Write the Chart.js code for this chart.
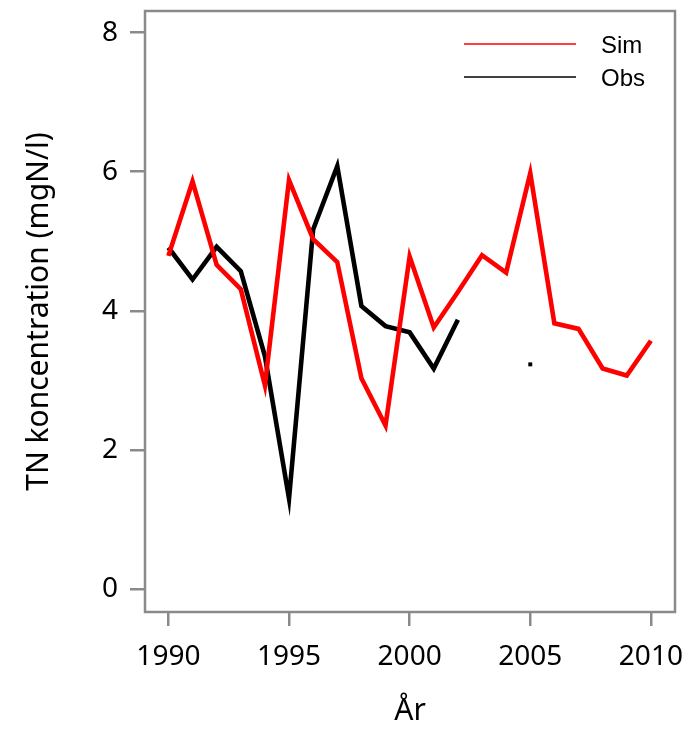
<!DOCTYPE html>
<html lang="sv">
<head>
<meta charset="utf-8">
<title>TN koncentration</title>
<script src="https://cdn.jsdelivr.net/npm/chart.js@4.4.1/dist/chart.umd.min.js"></script>
<style>
  html, body { margin: 0; padding: 0; background: #ffffff; }
  #contenedor { width: 684px; height: 729px; }
</style>
</head>
<body>
<div id="contenedor"><canvas id="grafico-tn" width="684" height="729"></canvas></div>
<script>
/**
 * Datos del gráfico
 */
const anios = [1990, 1991, 1992, 1993, 1994, 1995, 1996, 1997, 1998, 1999, 2000,
               2001, 2002, 2003, 2004, 2005, 2006, 2007, 2008, 2009, 2010];
const valoresSim = [4.79, 5.86, 4.66, 4.31, 2.93, 5.88, 5.03, 4.70, 3.03, 2.35, 4.78,
                    3.76, 4.27, 4.80, 4.55, 5.98, 3.82, 3.74, 3.17, 3.07, 3.57];
const valoresObs = [4.91, 4.45, 4.92, 4.57, 3.35, 1.30, 5.17, 6.08, 4.07, 3.78, 3.69,
                    3.17, 3.87, null, null, 3.23, null, null, null, null, null];
const ticksAnios = [1990, 1995, 2000, 2005, 2010];
const ticksConcentracion = [0, 2, 4, 6, 8];
const etiquetasSeries = ['Sim', 'Obs'];
const coloresSeries = ['#ff0000', '#000000'];

// Estilos comunes
const colorEjes = '#8a8a8a';
const fuenteEjes = 'Noto Sans';

/**
 * Convierte una serie en puntos {x, y}
 */
function armarPuntos(valores) {
  return anios.map((anio, i) => ({ x: anio, y: valores[i] }));
}

/**
 * Radio de punto: solo se dibujan los valores aislados (sin vecinos)
 */
function radioAislado(ctx) {
  const datos = ctx.dataset.data;
  const i = ctx.dataIndex;
  const prev = i > 0 ? datos[i - 1].y : null;
  const sig = i < datos.length - 1 ? datos[i + 1].y : null;
  return (datos[i].y !== null && prev === null && sig === null) ? 2.8 : 0;
}

/**
 * Quita el relleno automático que Chart.js reserva para las etiquetas
 */
function sinRelleno(escala) {
  escala.paddingTop = 0;
  escala.paddingBottom = 0;
  escala.paddingLeft = 0;
  escala.paddingRight = 0;
}

// Marco gris alrededor del área del gráfico
const pluginMarco = {
  id: 'marco',
  afterDraw(chart) {
    const { ctx, chartArea } = chart;
    ctx.save();
    ctx.strokeStyle = colorEjes;
    ctx.lineWidth = 2.5;
    ctx.strokeRect(chartArea.left, chartArea.top,
                   chartArea.right - chartArea.left, chartArea.bottom - chartArea.top);
    ctx.restore();
  }
};

// Leyenda con líneas finas arriba a la derecha
const pluginLeyenda = {
  id: 'leyendaLineas',
  afterDraw(chart) {
    const { ctx } = chart;
    const filas = [44, 77];
    ctx.save();
    ctx.font = '24px "Liberation Sans", Arial, sans-serif';
    ctx.textBaseline = 'middle';
    ctx.textAlign = 'left';
    chart.data.datasets.forEach((ds, i) => {
      ctx.strokeStyle = ds.borderColor;
      ctx.lineWidth = 1.3;
      ctx.beginPath();
      ctx.moveTo(464, filas[i]);
      ctx.lineTo(576, filas[i]);
      ctx.stroke();
      ctx.fillStyle = '#000000';
      ctx.fillText(ds.label, 601, filas[i] + 2);
    });
    ctx.restore();
  }
};

const ctxGrafico = document.getElementById('grafico-tn');

new Chart(ctxGrafico, {
  type: 'line',
  data: {
    datasets: [valoresSim, valoresObs].map((valores, i) => ({
      label: etiquetasSeries[i],
      data: armarPuntos(valores),
      borderColor: coloresSeries[i],
      backgroundColor: coloresSeries[i],
      borderWidth: 4.6,
      borderJoinStyle: 'miter',
      borderCapStyle: 'butt',
      tension: 0,
      spanGaps: false,
      pointRadius: radioAislado,
      pointStyle: 'rect',
      pointBorderWidth: 0,
      pointBackgroundColor: coloresSeries[i]
    }))
  },
  options: {
    responsive: false,
    animation: false,
    events: [],
    layout: { padding: { top: 11, right: 9, left: 0, bottom: 0 } },
    plugins: {
      legend: { display: false },
      tooltip: { enabled: false }
    },
    scales: {
      x: {
        type: 'linear',
        min: 1989.03,
        max: 2011.0,
        afterBuildTicks: escala => { escala.ticks = ticksAnios.map(v => ({ value: v })); },
        afterFit: escala => { escala.height = 117; sinRelleno(escala); },
        border: { display: false },
        grid: {
          drawOnChartArea: false,
          drawTicks: true,
          tickLength: 14,
          color: colorEjes,
          lineWidth: 2.5
        },
        ticks: {
          autoSkip: false,
          maxRotation: 0,
          padding: 14,
          color: '#000000',
          font: { family: fuenteEjes, size: 28 },
          callback: v => String(v)
        },
        title: {
          display: true,
          text: 'År',
          color: '#000000',
          font: { family: fuenteEjes, size: 30 },
          padding: { top: 0, bottom: 0 }
        }
      },
      y: {
        min: -0.33,
        max: 8.31,
        afterBuildTicks: escala => { escala.ticks = ticksConcentracion.map(v => ({ value: v })); },
        afterFit: escala => { escala.width = 145; sinRelleno(escala); },
        border: { display: false },
        grid: {
          drawOnChartArea: false,
          drawTicks: true,
          tickLength: 15,
          color: colorEjes,
          lineWidth: 2.5
        },
        ticks: {
          padding: 12,
          color: '#000000',
          font: { family: fuenteEjes, size: 28 },
          callback: v => String(v)
        },
        title: {
          display: true,
          text: 'TN koncentration (mgN/l)',
          color: '#000000',
          font: { family: fuenteEjes, size: 30 },
          padding: { top: 21, bottom: 0 }
        }
      }
    }
  },
  plugins: [pluginMarco, pluginLeyenda]
});
</script>
</body>
</html>
